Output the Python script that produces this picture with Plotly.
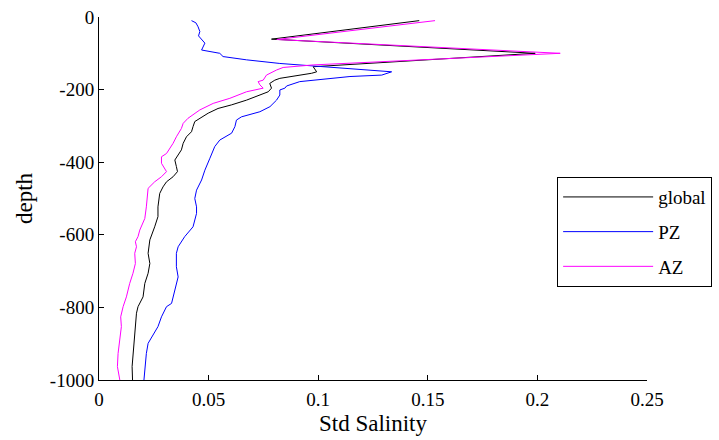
import plotly.graph_objects as go

# Standard deviation of salinity profiles versus depth (m, negative downward)
global_std = [0.1461, 0.0787, 0.199, 0.0977, 0.0993, 0.097, 0.0825, 0.0802, 0.0779, 0.0787,
              0.0772, 0.0734, 0.0673, 0.0605, 0.0543, 0.0498, 0.0437, 0.0429, 0.0422, 0.0399,
              0.0384, 0.0376, 0.0353, 0.0346, 0.0353, 0.0358, 0.0338, 0.0308, 0.0292, 0.0277,
              0.0269, 0.0269, 0.0254, 0.0239, 0.0232, 0.0224, 0.0232, 0.0224, 0.0209, 0.0201,
              0.0178, 0.0171, 0.0166, 0.016, 0.0155, 0.0151, 0.0153]
global_depth = [-10, -61, -100, -137, -151, -155, -169, -174, -183, -196,
                -206, -215, -229, -242, -252, -265, -288, -302, -316, -330,
                -348, -366, -385, -394, -412, -426, -440, -454, -468, -486,
                -523, -550, -578, -601, -614, -651, -679, -706, -734, -771,
                -798, -816, -853, -890, -927, -963, -1000]

pz_std = [0.0422, 0.0442, 0.0452, 0.046, 0.0454, 0.0468, 0.0483, 0.0468, 0.0551, 0.0566,
          0.0673, 0.0825, 0.0976, 0.110, 0.1335, 0.129, 0.1145, 0.0916, 0.0856, 0.0848,
          0.0825, 0.0825, 0.081, 0.078, 0.0734, 0.065, 0.0627, 0.062, 0.0605, 0.0551,
          0.0528, 0.0506, 0.0483, 0.0468, 0.0445, 0.0437, 0.0445, 0.0445, 0.0429, 0.0391,
          0.0361, 0.0353, 0.0353, 0.0361, 0.0346, 0.0331, 0.0308, 0.0285, 0.0269, 0.0247,
          0.0224, 0.0216, 0.0209, 0.0205]
pz_depth = [-10, -16, -27, -40, -52, -63, -72, -91, -100, -109,
            -118, -128, -135, -139, -151, -160, -164, -178, -190, -196,
            -201, -215, -229, -247, -261, -275, -284, -302, -320, -339,
            -357, -389, -422, -449, -477, -500, -523, -541, -578, -605,
            -633, -651, -688, -716, -752, -789, -798, -826, -853, -876,
            -899, -927, -963, -1000]

az_std = [0.1533, 0.0811, 0.2104, 0.110, 0.0977, 0.084, 0.081, 0.0764, 0.0749, 0.0726,
          0.0734, 0.0749, 0.0673, 0.0597, 0.0521, 0.046, 0.0406, 0.0384, 0.0376, 0.0353,
          0.0338, 0.0308, 0.0285, 0.0285, 0.03, 0.0308, 0.0285, 0.0254, 0.0224, 0.0221,
          0.0216, 0.0209, 0.0194, 0.0186, 0.0178, 0.0166, 0.0171, 0.0163, 0.0166, 0.0155,
          0.014, 0.0125, 0.011, 0.0099, 0.0102, 0.0095, 0.0087, 0.0084, 0.0095]
az_depth = [-10, -62, -100, -128, -132, -139, -146, -160, -174, -178,
            -187, -196, -206, -224, -238, -256, -279, -293, -307, -330,
            -348, -376, -385, -403, -417, -426, -440, -454, -472, -495,
            -523, -555, -578, -587, -605, -619, -633, -651, -679, -706,
            -734, -771, -798, -826, -853, -890, -927, -963, -1000]

x_ticks = [0, 0.05, 0.1, 0.15, 0.2, 0.25]
x_ticklabels = ["0", "0.05", "0.1", "0.15", "0.2", "0.25"]
y_ticks = [0, -200, -400, -600, -800, -1000]
y_ticklabels = ["0", "-200", "-400", "-600", "-800", "-1000"]

FONT = "Times New Roman, Liberation Serif, DejaVu Serif, serif"

fig = go.Figure()
fig.add_trace(go.Scatter(x=global_std, y=global_depth, mode="lines", name="global",
                         legendgroup="global", line=dict(color="black", width=1)))
fig.add_trace(go.Scatter(x=pz_std, y=pz_depth, mode="lines", name="PZ",
                         legendgroup="PZ", line=dict(color="#0000ff", width=1)))
fig.add_trace(go.Scatter(x=az_std, y=az_depth, mode="lines", name="AZ",
                         legendgroup="AZ", line=dict(color="#ff00ff", width=1)))

fig.update_layout(
    width=719, height=440,
    margin=dict(l=99, r=72, t=17, b=60, autoexpand=False),
    paper_bgcolor="white", plot_bgcolor="white",
    font=dict(family=FONT, size=19, color="black"),
    showlegend=True,
    legend=dict(x=0.836, y=0.559, xanchor="left", yanchor="top",
                bordercolor="black", borderwidth=1, bgcolor="white",
                font=dict(family=FONT, size=19), itemwidth=90,
                tracegroupgap=7),
    xaxis=dict(range=[0, 0.25], tickvals=x_ticks, ticktext=x_ticklabels,
               showgrid=False, zeroline=False, showline=True, linecolor="black",
               linewidth=1, ticks="inside", ticklen=5, tickcolor="black",
               ticklabelstandoff=2, automargin=False,
               title=dict(text="Std Salinity", standoff=6)),
    yaxis=dict(range=[-1000, 0], tickvals=y_ticks, ticktext=y_ticklabels,
               showgrid=False, zeroline=False, showline=True, linecolor="black",
               linewidth=1, ticks="inside", ticklen=5, tickcolor="black",
               automargin=False,
               title=dict(text="depth", standoff=10)),
)

fig.write_html("out.html")
